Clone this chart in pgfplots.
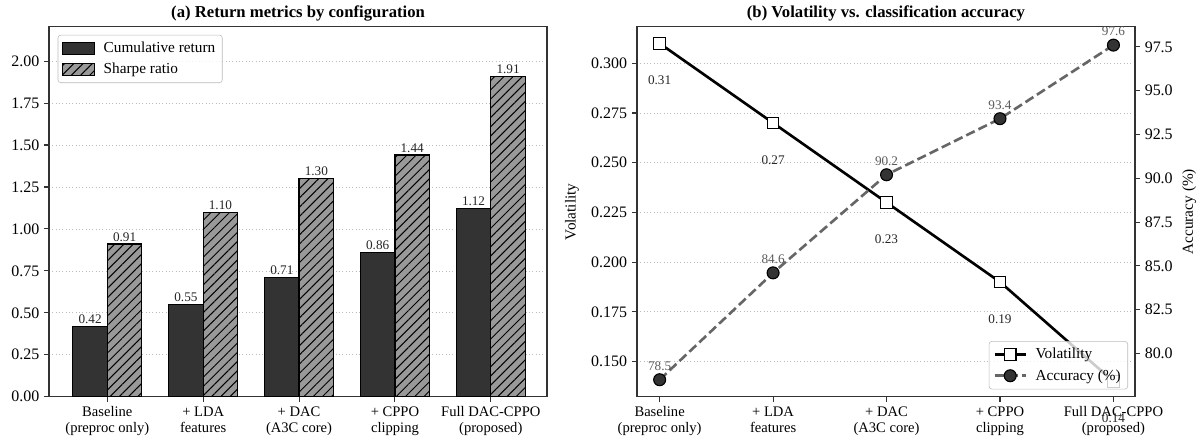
\documentclass[border=0pt]{standalone}
\usepackage{fontspec}
\setmainfont{Liberation Serif}
\usepackage{pgfplots}
\pgfplotsset{compat=1.18}
\usetikzlibrary{patterns.meta}

\definecolor{darkbar}{HTML}{333333}
\definecolor{hatchbar}{HTML}{999999}
\definecolor{accline}{HTML}{666666}
\definecolor{gridc}{HTML}{BBBBBB}

\pgfplotsset{
  panel/.style={
    scale only axis, width=358.6pt, height=266.4pt,
    anchor=south west,
    axis line style={black!80, line width=0.9pt},
    tick style={black!80, line width=0.8pt},
    tick align=outside, major tick length=3.5pt,
    /pgf/number format/assume math mode=true,
    yticklabel style={font=\fontsize{11.5}{12}\selectfont},
    xticklabel style={font=\fontsize{10.5}{11.5}\selectfont, align=center},
    every axis title/.style={at={(0.5,1)}, anchor=center, yshift=9.6pt,
      font=\fontsize{12}{13}\selectfont\bfseries},
    xtick={0,1,2,3,4},
    xticklabels={Baseline\\(preproc only), + LDA\\features, + DAC\\(A3C core), + CPPO\\clipping, Full DAC-CPPO\\(proposed)},
    legend style={font=\fontsize{11}{12}\selectfont, draw=gridc, rounded corners=2pt,
      fill=white, fill opacity=0.8, text opacity=1, inner sep=3pt,
      row sep=2pt, column sep=4pt, nodes={inner sep=2pt}},
    legend cell align=left,
  },
}

\begin{document}
\begin{tikzpicture}

% (a) bars
\begin{axis}[panel, at={(35.3pt,32.6pt)},
  title={(a) Return metrics by configuration},
  xmin=-0.608, xmax=4.587, ymin=0, ymax=2.205,
  xtick pos=bottom, ytick pos=left,
  ytick={0,0.25,0.5,0.75,1,1.25,1.5,1.75,2},
  yticklabel style={/pgf/number format/.cd, fixed, zerofill, precision=2},
  ymajorgrids, major grid style={dotted, line width=0.5pt, gridc},
  ybar=0pt, bar width=0.36,
  point meta=explicit symbolic, nodes near coords,
  every node near coord/.append style={font=\fontsize{9.5}{10}\selectfont, text=black!85, inner sep=1.5pt},
  legend style={at={(0.0175,0.978)}, anchor=north west},
  legend image code/.code={\draw[#1, sharp corners, fill opacity=1, draw opacity=1] (0pt,-4.3pt) rectangle (23pt,4.3pt);},
]
\addplot[fill=darkbar, draw=black, line width=0.9pt, bar shift=-0.18]
  coordinates {(0,0.42)[0.42] (1,0.55)[0.55] (2,0.71)[0.71] (3,0.86)[0.86] (4,1.12)[1.12]};
\addlegendentry{Cumulative return}
\addplot[fill=hatchbar, draw=black, line width=0.9pt, bar shift=0.18,
  postaction={pattern={Lines[angle=45, distance=4.7pt, line width=0.7pt]}, pattern color=black}]
  coordinates {(0,0.91)[0.91] (1,1.10)[1.10] (2,1.30)[1.30] (3,1.44)[1.44] (4,1.91)[1.91]};
\addlegendentry{Sharpe ratio}
\end{axis}

% (b) volatility
\begin{axis}[panel, at={(458.6pt,32.6pt)},
  title={(b) Volatility vs. classification accuracy},
  xmin=-0.2, xmax=4.19, ymin=0.1323, ymax=0.3184,
  xtick pos=bottom, ytick pos=left, clip=false,
  ytick={0.15,0.175,0.2,0.225,0.25,0.275,0.3},
  yticklabel style={/pgf/number format/.cd, fixed, zerofill, precision=3},
  ymajorgrids, major grid style={dotted, line width=0.5pt, gridc},
  ylabel={Volatility},
  every axis y label/.style={at={(axis description cs:0,0.5)}, xshift=-46.8pt, rotate=90, anchor=center, font=\fontsize{11}{12}\selectfont},
]
\addplot[black, line width=1.9pt, mark=square*, mark size=4.2pt,
  mark options={fill=white, draw=black, line width=0.8pt},
  point meta=explicit symbolic, nodes near coords,
  every node near coord/.append style={anchor=center, yshift=-26.6pt, font=\fontsize{9.5}{10}\selectfont, text=black!85}]
  coordinates {(0,0.31)[0.31] (1,0.27)[0.27] (2,0.23)[0.23] (3,0.19)[0.19] (4,0.14)[0.14]};
\end{axis}

% (b) accuracy on the twin axis
\begin{axis}[panel, at={(458.6pt,32.6pt)},
  xmin=-0.2, xmax=4.19, ymin=77.53, ymax=98.65,
  axis y line*=right, hide x axis, clip=false,
  ytick={80,82.5,85,87.5,90,92.5,95,97.5},
  yticklabel style={/pgf/number format/.cd, fixed, zerofill, precision=1},
  ylabel={Accuracy (\%)},
  every axis y label/.style={at={(axis description cs:1,0.5)}, xshift=39pt, rotate=90, anchor=center, font=\fontsize{11}{12}\selectfont},
  legend style={at={(0.986,0.02)}, anchor=south east},
  legend image code/.code={\draw[#1, sharp corners, draw opacity=1, fill opacity=1] (0pt,0pt) -- (22.6pt,0pt); \path[#1, draw=none, fill opacity=1] plot coordinates {(11.3pt,0pt)};},
]
\addlegendimage{black, line width=1.9pt, mark=square*, mark size=4.2pt, mark options={fill=white, draw=black, line width=0.8pt}}
\addlegendentry{Volatility}
\addplot[accline, line width=1.9pt, dash pattern=on 6.8pt off 3pt, mark=*, mark size=4.3pt,
  mark options={solid, fill=darkbar, draw=black, line width=0.8pt},
  point meta=explicit symbolic, nodes near coords,
  every node near coord/.append style={anchor=center, yshift=10pt, font=\fontsize{9.5}{10}\selectfont, text=black!65}]
  coordinates {(0,78.5)[78.5] (1,84.6)[84.6] (2,90.2)[90.2] (3,93.4)[93.4] (4,97.6)[97.6]};
\addlegendentry{Accuracy (\%)}
\end{axis}

\pgfresetboundingbox
\useasboundingbox (0,0) rectangle (865.44pt,318.24pt);
\end{tikzpicture}
\end{document}
